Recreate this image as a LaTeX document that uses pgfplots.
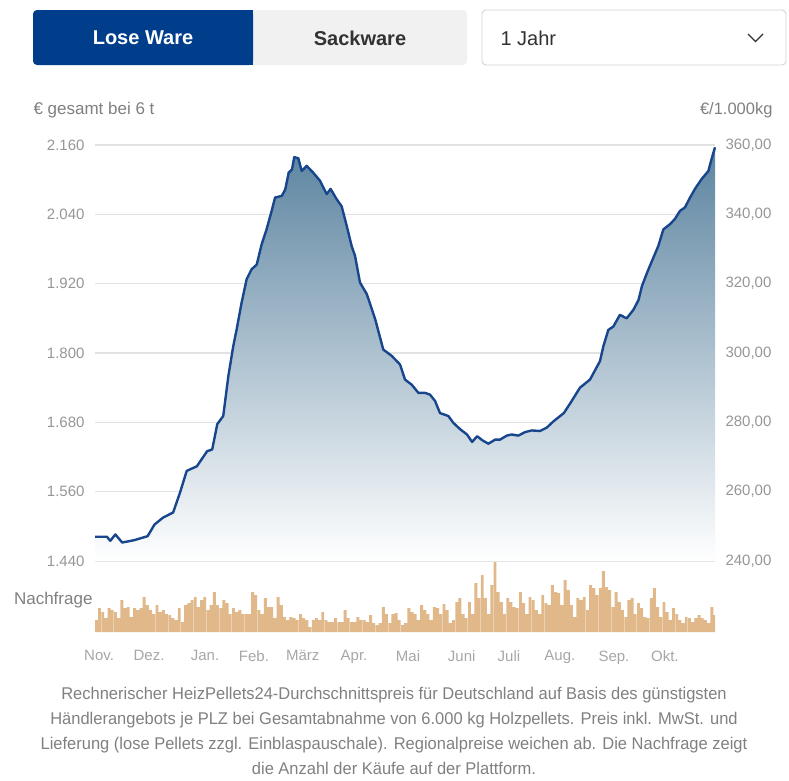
\documentclass[border=0pt]{standalone}
\usepackage{fontspec}
\setmainfont{Liberation Sans}
\newfontfamily\cond[FakeStretch=0.97]{Liberation Sans}
\usepackage{pgfplots}
\usepackage{pgfplotstable}
\pgfplotsset{compat=1.18}
\definecolor{lineblue}{RGB}{24,70,140}
\definecolor{btnblue}{RGB}{0,62,140}
\definecolor{btngray}{RGB}{241,241,241}
\definecolor{gridgray}{RGB}{226,226,226}
\definecolor{ticktext}{RGB}{150,150,150}
\definecolor{captext}{RGB}{128,128,128}
\definecolor{bartan}{RGB}{224,184,138}
\definecolor{shadetop}{RGB}{92,132,160}
\definecolor{shademid}{RGB}{194,209,221}
\definecolor{darktext}{RGB}{50,50,50}

\pgfplotstableread{
day price
0 1482
7 1482
9 1475
12 1486
16 1472
23 1476
31 1483
35 1503
40 1515
46 1524
50 1558
54 1596
60 1604
66 1630
69 1633
72 1677
75.5 1691
78.5 1760
81.4 1812
83.4 1841
86.3 1887
89.3 1928
92.2 1945
95.2 1953
98.1 1988
101 2014
104 2046
106 2069
110 2072
112 2083
114 2112
116 2118
117.3 2139
119.7 2137
121.7 2115
124.6 2124
128.5 2112
132.5 2098
136.4 2075
138.7 2084
142.3 2066
145.2 2054
148.2 2020
151.1 1985
153.1 1968
156 1922
160 1902
165 1858
169.7 1806
174.7 1795
179.6 1780
182.5 1754
186.5 1745
190.4 1731
194.3 1731
197.2 1728
200.2 1717
203.1 1696
208 1691
211 1679
215 1668
219 1659
222 1646
225 1656
228 1649
231.6 1643
235.5 1650
238.4 1650
242.4 1657
245.3 1659
249.2 1657
253.1 1663
257.1 1666
262 1665
266 1671
270 1682
276 1696
280 1714
285.5 1740
291.4 1754
297.3 1786
299.3 1812
302.2 1840
305.2 1846
309 1866
313 1860
317 1875
320 1892
322 1916
325 1939
328.7 1965
331.6 1985
334.6 2014
338.5 2023
341.4 2032
344.4 2046
347.3 2052
350.3 2069
353.2 2084
357.1 2101
361.1 2115
363 2136
365 2156
}\pricedata

\pgfplotstableread[row sep=\\]{
h\\
12\\24\\20\\14\\24\\22\\20\\14\\32\\24\\25\\15\\24\\22\\24\\35\\27\\22\\18\\27\\20\\22\\18\\17\\14\\12\\24\\10\\27\\29\\32\\35\\25\\32\\35\\22\\27\\40\\27\\24\\32\\29\\18\\24\\20\\22\\
18\\18\\18\\40\\37\\22\\18\\34\\25\\25\\14\\35\\27\\15\\12\\15\\14\\12\\18\\14\\12\\5\\12\\14\\12\\20\\12\\10\\10\\14\\10\\10\\22\\14\\10\\10\\15\\12\\12\\10\\17\\9\\7\\9\\25\\18\\9\\18\\
19\\12\\7\\9\\24\\20\\18\\12\\27\\22\\18\\12\\25\\24\\18\\28\\22\\9\\12\\30\\34\\18\\14\\30\\18\\49\\34\\57\\34\\18\\47\\70\\40\\30\\18\\34\\30\\25\\24\\40\\29\\18\\35\\32\\22\\18\\37\\29\\27\\47\\40\\
39\\27\\52\\42\\27\\15\\34\\32\\35\\22\\47\\44\\37\\44\\61\\45\\42\\25\\40\\30\\22\\15\\32\\34\\18\\29\\24\\15\\14\\34\\44\\25\\15\\30\\20\\12\\24\\18\\12\\9\\15\\14\\10\\14\\17\\14\\12\\9\\25\\17\\
}\bardata

\newcommand{\tickfont}{\fontsize{15bp}{18bp}\selectfont}

\begin{document}
\begin{tikzpicture}
\useasboundingbox (0,0) rectangle (789bp,-781bp);
% --- top controls
\fill[btngray, rounded corners=4bp] (33bp,-10bp) rectangle (467bp,-65bp);
\fill[btnblue, rounded corners=4bp] (33bp,-10bp) rectangle (253bp,-65bp);
\fill[btnblue] (230bp,-10bp) rectangle (253bp,-65bp);
\node[white, font=\fontsize{20bp}{22bp}\selectfont\bfseries] at (143bp,-38bp) {Lose Ware};
\node[darktext, font=\fontsize{20bp}{22bp}\selectfont\bfseries] at (360bp,-38bp) {Sackware};
\draw[gray!35, line width=0.9bp, fill=white, rounded corners=4bp] (482bp,-10bp) rectangle (786bp,-65bp);
\node[anchor=west, darktext, font=\fontsize{20bp}{22bp}\selectfont] at (497bp,-38bp) {1 Jahr};
\draw[darktext, line width=1.1bp] (748bp,-34bp) -- (755.5bp,-41.5bp) -- (763bp,-34bp);
% --- axis titles
\node[anchor=west, captext, font=\fontsize{17bp}{19bp}\selectfont] at (30bp,-110bp) {€ gesamt bei 6 t};
\node[anchor=east, captext, font=\fontsize{16.5bp}{19bp}\selectfont] at (776bp,-110bp) {€/1.000kg};

% --- price axis (left)
\begin{axis}[at={(95bp,-561bp)}, anchor=south west, scale only axis,
  width=620bp, height=416bp, xmin=0, xmax=365, ymin=1440, ymax=2160,
  clip=false, axis line style={draw=none}, xtick=\empty,
  ytick={1440,1560,1680,1800,1920,2040,2160},
  ymajorgrids, grid style={gridgray, line width=1.3bp},
  major tick length=0pt,
  yticklabel style={ticktext, font=\tickfont, anchor=east, xshift=-7bp},
  /pgf/number format/.cd, assume math mode=true, 1000 sep={.}]
\addplot[draw=none, top color=shadetop, middle color=shademid, bottom color=white]
  table[x=day, y=price] {\pricedata} -- (axis cs:365,1440) -- (axis cs:0,1440) -- cycle;
\addplot[lineblue, line width=2.4bp, line join=round, no marks] table[x=day, y=price] {\pricedata};
\end{axis}

% --- right axis
\begin{axis}[at={(95bp,-561bp)}, anchor=south west, scale only axis,
  width=620bp, height=416bp, xmin=0, xmax=365, ymin=240, ymax=360,
  axis y line*=right, axis x line=none, axis line style={draw=none},
  ytick={240,260,280,300,320,340,360}, major tick length=0pt,
  yticklabel style={ticktext, font=\tickfont, anchor=west, xshift=7bp},
  /pgf/number format/.cd, assume math mode=true, fixed, fixed zerofill, precision=2, use comma, 1000 sep={}]
\addplot[draw=none] coordinates {(0,240)};
\end{axis}

% --- demand bars
\node[anchor=east, captext, font=\fontsize{17bp}{19bp}\selectfont] at (96bp,-600bp) {Nachfrage};
\begin{axis}[at={(95bp,-632bp)}, anchor=south west, scale only axis,
  width=620bp, height=70bp, xmin=0, xmax=365, ymin=0, ymax=70,
  axis line style={draw=none}, ytick=\empty,
  xtick={2.4,31.8,64.8,93.6,122.3,152.5,184.3,215.9,243.7,273.7,305.5,335.5},
  xticklabels={Nov.,Dez.,Jan.,Feb.,März,Apr.,Mai,Juni,Juli,Aug.,Sep.,Okt.},
  major tick length=0pt,
  xticklabel style={color=ticktext!85, font=\tickfont, anchor=north, yshift=-15bp}]
\addplot[ybar, bar width=1.7, bar shift=0pt, fill=bartan, draw=none]
  table[x expr=0.8+\coordindex*1.8773, y=h] {\bardata};
\end{axis}

% --- caption
\node[anchor=north, align=center, captext, font=\cond\fontsize{17bp}{24.8bp}\selectfont] at (394bp,-684bp)
{Rechnerischer HeizPellets24-Durchschnittspreis für Deutschland auf Basis des günstigsten\\
Händlerangebots je PLZ bei Gesamtabnahme von 6.000 kg Holzpellets. Preis inkl. MwSt. und\\
Lieferung (lose Pellets zzgl. Einblaspauschale). Regionalpreise weichen ab. Die Nachfrage zeigt\\
die Anzahl der Käufe auf der Plattform.};
\end{tikzpicture}
\end{document}
